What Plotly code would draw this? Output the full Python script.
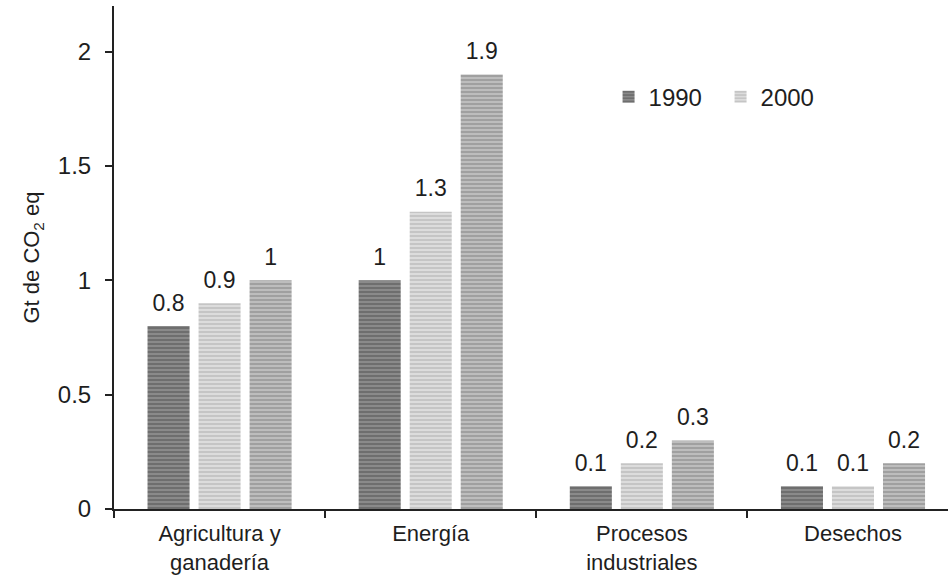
import plotly.graph_objects as go

categories = ["Agricultura y<br>ganadería", "Energía", "Procesos<br>industriales", "Desechos"]
series_names = ["1990", "2000", "2010"]
values_1990 = [0.8, 1.0, 0.1, 0.1]
values_2000 = [0.9, 1.3, 0.2, 0.1]
values_2010 = [1.0, 1.9, 0.3, 0.2]
y_ticks = [0, 0.5, 1, 1.5, 2]

styles = [
    dict(bg="#8a8a8a", fg="#4a4a4a", legend=True),
    dict(bg="#dcdcdc", fg="#a9a9a9", legend=True),
    dict(bg="#bdbdbd", fg="#7c7c7c", legend=False),
]

fig = go.Figure()
for name, vals, st in zip(series_names, [values_1990, values_2000, values_2010], styles):
    fig.add_trace(go.Bar(
        x=categories, y=vals, name=name, showlegend=st["legend"],
        marker=dict(
            color=st["bg"], line=dict(width=0),
            pattern=dict(shape="-", size=4, solidity=0.45,
                         fgcolor=st["fg"], bgcolor=st["bg"], fillmode="overlay"),
        ),
    ))

# value labels: grouped text traces sitting above each bar
for name, vals in zip(series_names, [values_1990, values_2000, values_2010]):
    fig.add_trace(go.Scatter(
        x=categories, y=vals, mode="markers+text", showlegend=False,
        text=[f"{v:g}" for v in vals], textposition="top center",
        textfont=dict(size=23, color="#1e1e1e"), cliponaxis=False,
        marker=dict(size=14, color="rgba(0,0,0,0)"), hoverinfo="skip",
    ))

fig.update_layout(
    width=948, height=577,
    margin=dict(l=114, r=0, t=6, b=68),
    plot_bgcolor="white", paper_bgcolor="white",
    font=dict(family="Arial, Liberation Sans, sans-serif", size=23, color="#1e1e1e"),
    barmode="group", bargap=0.275, bargroupgap=0.176,
    scattermode="group", scattergap=0.275,
    legend=dict(orientation="h", x=0.593, y=0.819, xanchor="left", yanchor="middle",
                font=dict(size=24), itemwidth=30, entrywidth=67, traceorder="normal",
                bgcolor="rgba(0,0,0,0)"),
    xaxis=dict(
        range=[-0.5, 3.45], showline=True, linecolor="#222222", linewidth=2,
        ticks="outside", tickson="boundaries", ticklen=7, tickcolor="#222222",
        tickwidth=2, tickfont=dict(size=22), showgrid=False, ticklabelstandoff=4,
        automargin=False,
    ),
    yaxis=dict(
        range=[0, 2.2], tickvals=y_ticks, ticktext=[f"{t:g}" for t in y_ticks],
        showline=True, linecolor="#222222", linewidth=2, ticks="outside",
        ticklen=7, tickcolor="#222222", tickwidth=2, showgrid=False,
        zeroline=False, tickfont=dict(size=24), ticklabelstandoff=9, automargin=False,
        title=dict(text="Gt de CO<sub>2</sub> eq", font=dict(size=22), standoff=12),
    ),
)

fig.write_html("out.html")
